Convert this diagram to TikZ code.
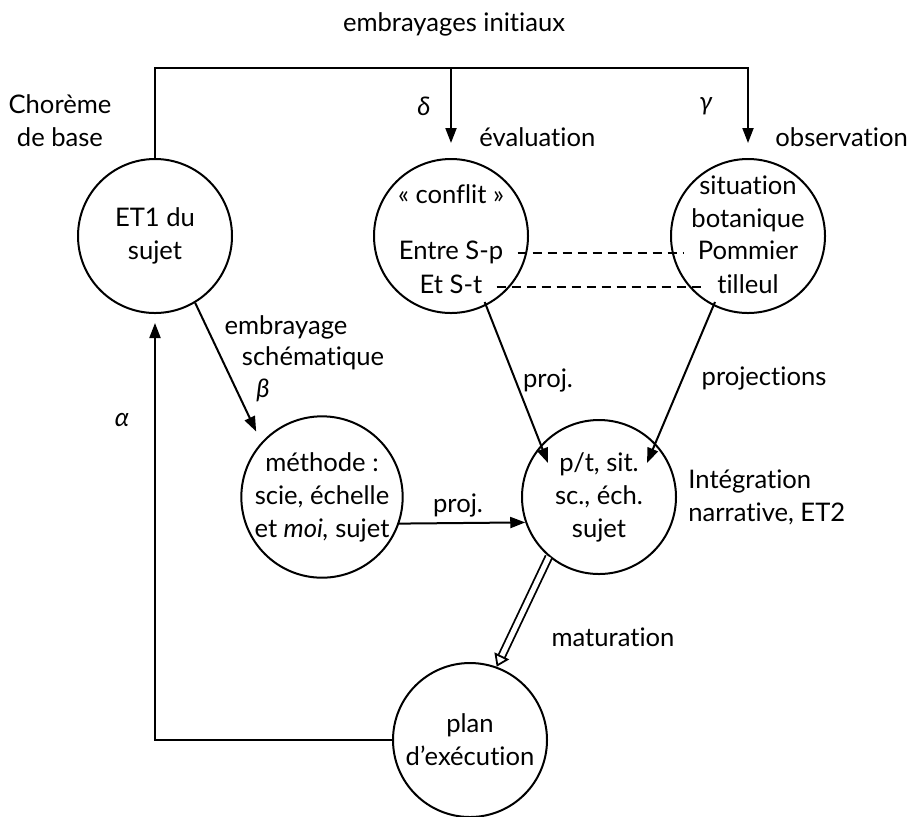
\documentclass[tikz,border=0pt]{standalone}
\usepackage{fontspec}
\setmainfont{Lato}[Ligatures=NoCommon]
\usetikzlibrary{arrows.meta,calc}
\tikzset{
    stage-circle/.style = {draw, circle, line width=1pt, minimum size=77pt, inner sep=0pt, align=center},
    stage-text/.style = {inner sep=4pt, text height=1.3ex, text depth=0pt},
    side-label/.style = {inner sep=0pt, align=center},
    flow/.style = {line width=1pt, -{Triangle[length=7.5pt,width=5.5pt]}},
    link-dash/.style = {line width=0.9pt, dash pattern=on 4.5pt off 3pt},
}

\begin{document}
\begin{tikzpicture}[x=0.5pt, y=-0.5pt, font=\fontsize{12.8}{16.5}\selectfont]
\useasboundingbox (0,0) rectangle (909,816);

% circles
\node[stage-circle] (et1) at (155,236) {ET1 du\\sujet};
\node[stage-circle] (conf) at (451,236) {};
\node[stage-text] (conflit) at (451,197) {« conflit »};
\node[stage-text] (entrep) at (451,253) {Entre S-p};
\node[stage-text] (etst) at (451,287) {Et S-t};
\node[stage-circle] (sit) at (748,236) {};
\node[side-label] (sitbot) at (748,204) {situation\\botanique};
\node[stage-text] (pommier) at (748,253) {Pommier};
\node[stage-text] (tilleul) at (748,287) {tilleul};
\node[stage-circle] (meth) at (322,497) {méthode :\\scie, échelle\\et \textit{moi,} sujet};
\node[stage-circle] (pt) at (599,497) {p/t, sit.\\sc., éch.\\sujet};
\node[stage-circle] (plan) at (470,740) {plan\\d’exécution};

% labels
\node[side-label] (init) at (454,24) {embrayages initiaux};
\node[side-label] (chor) at (60,121) {Chorème\\de base};
\node[side-label] (delta) at (424,106) {\textit{δ}};
\node[side-label] (gamma) at (706,106) {\textit{γ}};
\node[side-label, anchor=west] (eval) at (479,137) {évaluation};
\node[side-label, anchor=west] (obs) at (775,137) {observation};
\node[side-label] (emb) at (286,327) {embrayage};
\node[side-label] (sch) at (313,358) {schématique};
\node[side-label] (beta) at (263,390) {\textit{β}};
\node[side-label] (alpha) at (122,420) {\textit{α}};
\node[side-label] (proj-a) at (458,505) {proj.};
\node[side-label] (proj-b) at (548,380) {proj.};
\node[side-label] (projs) at (764,378) {projections};
\node[side-label, align=left, anchor=west] (integ) at (688,497) {Intégration\\narrative, ET2};
\node[side-label] (matur) at (613,637) {maturation};

% connectors
\coordinate (top) at (0,68);
\coordinate (pt-nw) at (548,463);
\coordinate (pt-ne) at (647,463);
\draw[flow, shorten >=7.5pt] (et1.north) |- (sit.north |- top) -- (sit.north);
\draw[flow, shorten >=7.5pt] (conf.north |- top) -- (conf.north);
\draw[flow, shorten >=4.5pt] (plan.west) -| (et1.south);
\draw[flow, shorten >=6pt] (et1.-59) -- (meth.138);
\draw[flow] (meth.-19.5) -- (pt.199.5);
\draw[flow] ([xshift=-3pt]etst.south east) -- (pt-nw);
\draw[flow] ([xshift=3pt]tilleul.south west) -- (pt-ne);
\draw[line width=0.9pt, double distance=2.5pt, -{Triangle[open,length=6pt,width=8pt]}] (pt.230) -- (plan.70);
\draw[link-dash, shorten <=3pt, shorten >=3pt] (entrep.east) -- (pommier.west);
\draw[link-dash, shorten <=3pt, shorten >=3pt] (etst.east) -- (tilleul.west);
\end{tikzpicture}
\end{document}
